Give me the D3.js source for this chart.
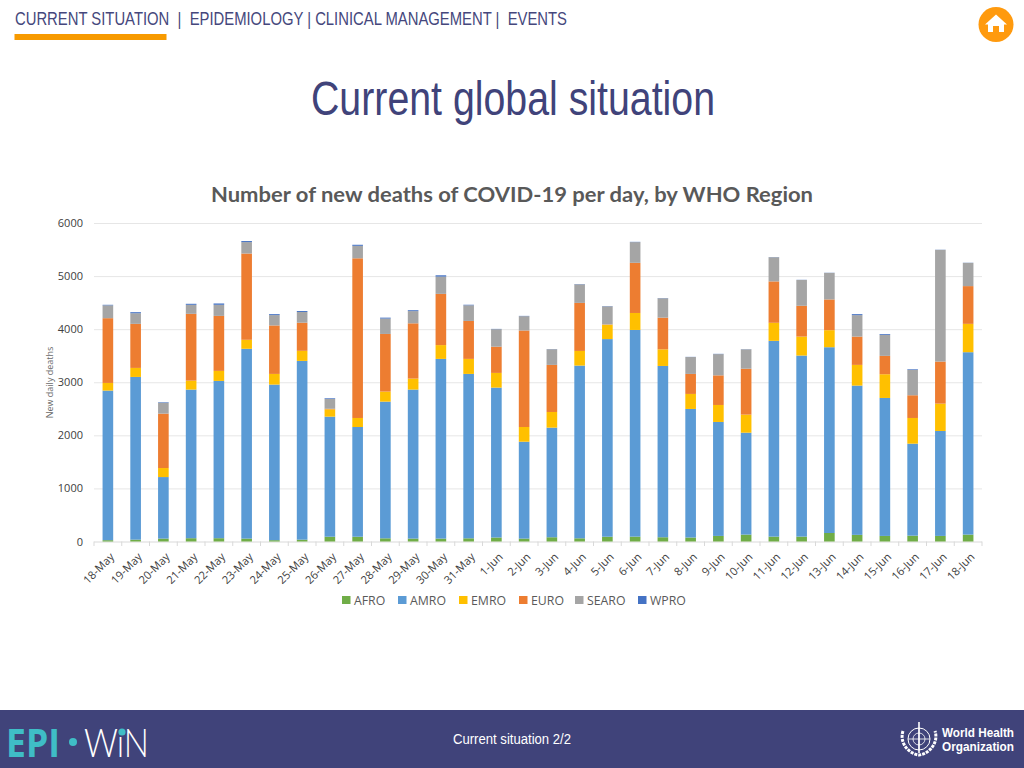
<!DOCTYPE html>
<html>
<head>
<meta charset="utf-8">
<script src="https://cdn.jsdelivr.net/npm/d3@7/dist/d3.min.js"></script>
<style>
html,body{margin:0;padding:0;background:#fff;overflow:hidden}
svg{display:block}
.narrow{font-family:"Liberation Sans",sans-serif}
.tick text{font-family:"Open Sans",sans-serif}
</style>
</head>
<body>
<svg id="c" width="1024" height="768"></svg>
<script>
const categories=["18-May","19-May","20-May","21-May","22-May","23-May","24-May","25-May","26-May","27-May","28-May","29-May","30-May","31-May","1-Jun","2-Jun","3-Jun","4-Jun","5-Jun","6-Jun","7-Jun","8-Jun","9-Jun","10-Jun","11-Jun","12-Jun","13-Jun","14-Jun","15-Jun","16-Jun","17-Jun","18-Jun"];
const AFRO=[25,35,55,62,62,55,25,35,90,90,60,55,55,60,75,55,80,60,90,92,80,75,105,130,92,92,160,125,105,110,105,130];
const AMRO=[2818,3065,1159,2800,2963,3575,2931,3367,2262,2067,2575,2807,3385,3097,2824,1825,2065,3254,3723,3893,3227,2422,2147,1920,3688,3411,3500,2812,2599,1733,1977,3436];
const EMRO=[144,170,170,168,189,170,201,190,138,170,189,207,260,283,277,277,295,276,271,320,313,283,320,340,340,357,321,390,447,484,515,534];
const EURO=[1220,830,1025,1259,1036,1625,913,530,10,3008,1086,1041,965,715,494,1818,887,905,6,945,597,377,558,865,780,580,579,533,346,428,793,711];
const SEARO=[242,200,205,170,209,215,195,202,185,235,290,230,325,295,330,270,295,350,340,390,365,318,400,365,455,487,500,404,396,478,2104,438];
const WPRO=[10,20,10,19,25,20,18,18,13,20,17,17,25,10,5,5,3,5,5,5,4,3,5,3,3,3,3,19,15,12,3,3];
const seriesNames=["AFRO","AMRO","EMRO","EURO","SEARO","WPRO"];
const seriesValues=[AFRO,AMRO,EMRO,EURO,SEARO,WPRO];
const seriesColors=["#70AD47","#5B9BD5","#FFC000","#ED7D31","#A5A5A5","#4472C4"];
const yTicks=[0,1000,2000,3000,4000,5000,6000];
const navItems="CURRENT SITUATION  |  EPIDEMIOLOGY | CLINICAL MANAGEMENT |  EVENTS";

const svg=d3.select("#c");
const navy="#40437A";

function squeezed(txt,xPos,yPos,size,len,fill,weight){
  return svg.append("text").attr("class","narrow").attr("x",xPos).attr("y",yPos)
    .attr("font-size",size).attr("fill",fill).attr("font-weight",weight||400)
    .attr("textLength",len).attr("lengthAdjust","spacingAndGlyphs")
    .style("white-space","pre").text(txt);
}

// header
squeezed(navItems,15,25,17.5,552,"#45477c");
svg.append("rect").attr("x",14.5).attr("y",34).attr("width",152).attr("height",6).attr("fill","#F79A00");
svg.append("circle").attr("cx",996).attr("cy",24.5).attr("r",17.5).attr("fill","#FF9A0E");
svg.append("path").attr("fill","#fff").attr("d","M996 14.5 L1007 24.5 L1004 24.5 L1004 32 L999 32 L999 26 L993 26 L993 32 L988 32 L988 24.5 L985 24.5 Z");
squeezed("Current global situation",311,115,48,404,navy);

// chart
const x=d3.scaleBand().domain(categories).range([94,982]).paddingInner(0.617).paddingOuter(0.3085);
const y=d3.scaleLinear().domain([0,6000]).range([541.5,223]);

svg.append("text").attr("x",211).attr("y",202)
  .attr("font-family","'Lato',sans-serif").attr("font-weight",700).attr("font-size",21).attr("fill","#595959")
  .attr("textLength",602).attr("lengthAdjust","spacingAndGlyphs")
  .text("Number of new deaths of COVID-19 per day, by WHO Region");

const yAxis=svg.append("g").attr("transform","translate(94,0)")
  .call(d3.axisLeft(y).tickValues(yTicks).tickSize(0).tickPadding(11).tickFormat(d3.format("d")));
yAxis.select(".domain").remove();
yAxis.selectAll("text").attr("font-size",11).attr("fill","#404040");
yAxis.selectAll(".tick line").attr("x2",888).attr("stroke","#E6E6E6").attr("stroke-width",1);
yAxis.selectAll(".tick").filter(d=>d===0).select("line").attr("stroke","#D9D9D9");

svg.append("text").attr("transform","translate(53,382.5) rotate(-90)").attr("text-anchor","middle")
  .attr("font-family","'Open Sans',sans-serif").attr("font-size",9).attr("fill","#6a6a6a").text("New daily deaths");

const stacked=d3.stack().keys(d3.range(seriesNames.length)).value((d,k)=>seriesValues[k][d])(d3.range(categories.length));
svg.append("g").selectAll("g").data(stacked).join("g").attr("fill",(d,i)=>seriesColors[i])
  .selectAll("rect").data(d=>d).join("rect")
  .attr("x",d=>x(categories[d.data]))
  .attr("width",x.bandwidth())
  .attr("y",d=>y(d[1]))
  .attr("height",d=>y(d[0])-y(d[1]));

const xAxis=svg.append("g").attr("transform","translate(0,541.5)")
  .call(d3.axisBottom(x).tickSize(0).tickPadding(0));
xAxis.select(".domain").remove();
xAxis.selectAll("text").attr("font-size",11.2).attr("fill","#404040")
  .attr("text-anchor","end").attr("dy",0).attr("y",0).attr("x",0)
  .attr("transform","translate(5,14) rotate(-45)").attr("dominant-baseline","middle");
// tick marks at band edges, from the scale
const step=x.step();
svg.append("g").selectAll("line").data(d3.range(categories.length+1)).join("line")
  .attr("x1",i=>x.range()[0]+i*step)
  .attr("x2",i=>x.range()[0]+i*step)
  .attr("y1",541.5).attr("y2",546).attr("stroke","#D9D9D9");

// legend
const legendX=[342,398,459,519,575,638];
const lg=svg.append("g").selectAll("g").data(seriesNames).join("g")
  .attr("transform",(d,i)=>`translate(${legendX[i]},596)`);
lg.append("rect").attr("width",8.5).attr("height",8).attr("fill",(d,i)=>seriesColors[i]);
lg.append("text").attr("x",12).attr("y",8.5).attr("font-family","'Open Sans',sans-serif")
  .attr("font-size",12.3).attr("fill","#595959").text(d=>d);

// footer
svg.append("rect").attr("x",0).attr("y",710).attr("width",1024).attr("height",58).attr("fill",navy);
squeezed("Current situation 2/2",453,744,15.5,118,"#fff");
const teal="#3FBDC6";
svg.append("text").attr("x",6).attr("y",757).attr("font-family","'Open Sans',sans-serif").attr("font-weight",700)
  .attr("font-size",39).attr("fill",teal).attr("textLength",54).attr("lengthAdjust","spacingAndGlyphs").text("EPI");
svg.append("circle").attr("cx",73).attr("cy",742).attr("r",4).attr("fill",teal);
svg.append("text").attr("x",84).attr("y",757).attr("font-family","'Lato',sans-serif").attr("font-weight",300)
  .attr("font-size",39).attr("fill","#fff").attr("textLength",65).attr("lengthAdjust","spacingAndGlyphs").text("WıN");
svg.append("circle").attr("cx",122).attr("cy",732).attr("r",3.6).attr("fill",teal);

// WHO emblem
const em=svg.append("g").attr("transform","translate(919,739)").attr("fill","none").attr("stroke","#fff");
em.append("circle").attr("r",11).attr("stroke-width",1);
em.append("circle").attr("r",6).attr("stroke-width",.8);
em.append("path").attr("d","M-11 0H11M0 -11V11").attr("stroke-width",.8);
em.append("path").attr("d","M-16 -8 C-20 4,-10 15,0 16 C10 15,20 4,16 -8").attr("stroke-width",3).attr("stroke-dasharray","3 1");
em.append("path").attr("d","M0 -17V14").attr("stroke-width",1.6);
squeezed("World Health",942,737,13,72,"#fff",700);
squeezed("Organization",942,751,13,72,"#fff",700);
</script>
</body>
</html>
